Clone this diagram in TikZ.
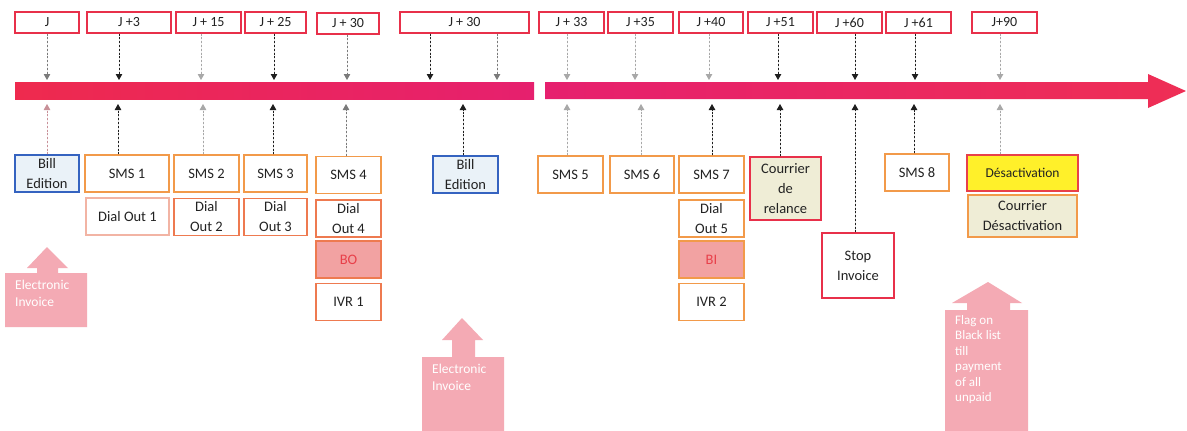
\documentclass[tikz,border=0pt]{standalone}
\usepackage{fontspec}
\setmainfont{Carlito}
\usetikzlibrary{arrows.meta}

\definecolor{frame}{HTML}{E8304A}
\definecolor{barA}{HTML}{EE2A4E}
\definecolor{barB}{HTML}{E6206E}
\definecolor{barC}{HTML}{EE2E55}
\definecolor{orng}{HTML}{F29A4A}
\definecolor{orngred}{HTML}{EE7A50}
\definecolor{paleor}{HTML}{F2B4A4}
\definecolor{billblue}{HTML}{3563C0}
\definecolor{billfill}{HTML}{EAF2F8}
\definecolor{beige}{HTML}{EFEDD6}
\definecolor{yel}{HTML}{FFF02A}
\definecolor{salmon}{HTML}{F2A2A2}
\definecolor{bored}{HTML}{E8404A}
\definecolor{bigpink}{HTML}{F4AAB4}
\definecolor{txt}{HTML}{222222}
\definecolor{arrdark}{HTML}{1E1E1E}
\definecolor{arrgrey}{HTML}{7A7A7A}
\definecolor{arrlight}{HTML}{A8A8A8}
\definecolor{arrpink}{HTML}{C89098}

\tikzset{
  daybox/.style={draw=frame, line width=1.1pt, fill=white, rectangle, inner sep=0pt,
    minimum height=21pt, text=txt, font=\fontsize{14}{16}\selectfont},
  actbox/.style={draw=orng, line width=1.1pt, fill=white, rectangle, inner sep=0pt,
    minimum height=37pt, align=center, text=txt, font=\fontsize{14.5}{20}\selectfont},
  billbox/.style={actbox, draw=billblue, fill=billfill},
  tick/.style={dash pattern=on 2pt off 1.8pt, line width=1pt,
    -{Triangle[width=6.5pt,length=6pt]}},
  tickdark/.style={tick, draw=arrdark, fill=arrdark},
  tickgrey/.style={tick, draw=arrgrey, fill=arrgrey},
  ticklight/.style={tick, draw=arrlight, fill=arrlight},
  tickpink/.style={tick, draw=arrpink, fill=arrpink},
  bigarrow/.style={fill=bigpink},
  bigtext/.style={text=white, align=left, inner sep=0pt, anchor=north west,
    font=\fontsize{13.5}{16.5}\selectfont}
}

\begin{document}
\begin{tikzpicture}[x=1pt,y=-1pt]
\useasboundingbox (0,0) rectangle (1187,431);
\fill[white] (0,0) rectangle (1187,431);

% ---- time line ----
\shade[left color=barA, right color=barB] (15,82) rectangle (534,99);
\shade[left color=barB, right color=barC]
  (545,82) -- (1148,82) -- (1148,74) -- (1186,91) -- (1148,108) -- (1148,99) -- (545,99) -- cycle;

% ---- day markers ----
\node[daybox, minimum width=64pt]  (tJ)  at (47,22.5)    {J};
\node[daybox, minimum width=84pt]  (t3)  at (129,22.5)   {J +3};
\node[daybox, minimum width=65pt]  (t15) at (208.5,22.5) {J + 15};
\node[daybox, minimum width=61pt]  (t25) at (275.5,22.5) {J + 25};
\node[daybox, minimum width=62pt]  (t30) at (348,23.5)   {J + 30};
\node[daybox, minimum width=129pt] (t30b) at (464.5,22.5) {J + 30};
\node[daybox, minimum width=65pt]  (t33) at (571.5,22.5) {J + 33};
\node[daybox, minimum width=65pt]  (t35) at (640.5,22.5) {J +35};
\node[daybox, minimum width=64pt]  (t40) at (711,22.5)   {J +40};
\node[daybox, minimum width=65pt]  (t51) at (780.5,22.5) {J +51};
\node[daybox, minimum width=65pt]  (t60) at (849.5,22.5) {J +60};
\node[daybox, minimum width=65pt]  (t61) at (918.5,22.5) {J +61};
\node[daybox, minimum width=65pt]  (t90) at (1004.5,22.5) {J+90};

% ---- tips on the upper edge of the time line ----
\foreach \n/\x in {a1/47,a2/119,a3/201,a4/274,a5/347,a6/430,a7/497,a8/567,
                   a9/635,a10/709,a11/778,a12/855,a13/915,a14/1000}
  \coordinate (\n) at (\x,80);
% ---- tips under the lower edge of the time line ----
\foreach \n/\x in {u1/47,u2/118,u3/203,u4/273,u5/346,u6/463,u7/567,u8/641,
                   u9/712,u10/780,u11/855,u12/914,u13/1000}
  \coordinate (\n) at (\x,104);

\draw[tickgrey]  (tJ.south -| a1) -- (a1);
\draw[tickdark]  (t3.south -| a2) -- (a2);
\draw[ticklight] (t15.south -| a3) -- (a3);
\draw[tickdark]  (t25.south -| a4) -- (a4);
\draw[tickgrey]  (t30.south -| a5) -- (a5);
\draw[tickdark]  (t30b.south -| a6) -- (a6);
\draw[tickgrey]  (t30b.south -| a7) -- (a7);
\draw[ticklight] (t33.south -| a8) -- (a8);
\draw[ticklight] (t35.south -| a9) -- (a9);
\draw[ticklight] (t40.south -| a10) -- (a10);
\draw[tickdark]  (t51.south -| a11) -- (a11);
\draw[tickdark]  (t60.south -| a12) -- (a12);
\draw[tickdark]  (t61.south -| a13) -- (a13);
\draw[ticklight] (t90.south -| a14) -- (a14);

% ---- actions ----
\node[billbox, minimum width=64pt] (bill1) at (47,173.5) {Bill\\Edition};
\node[actbox, minimum width=84pt] (sms1) at (127,173.5) {SMS 1};
\node[actbox, minimum width=83pt, draw=paleor] (do1) at (127.5,216.5) {Dial Out 1};
\node[actbox, minimum width=65pt] (sms2) at (206.5,173.5) {SMS 2};
\node[actbox, minimum width=65pt, draw=orngred] (do2) at (206.5,217) {Dial\\Out 2};
\node[actbox, minimum width=63pt] (sms3) at (275.5,173.5) {SMS 3};
\node[actbox, minimum width=63pt, draw=orngred] (do3) at (275.5,217) {Dial\\Out 3};
\node[actbox, minimum width=65pt] (sms4) at (348.5,175) {SMS 4};
\node[actbox, minimum width=65pt, draw=orngred] (do4) at (348.5,218.5) {Dial\\Out 4};
\node[actbox, minimum width=65pt, draw=orngred, fill=salmon, text=bored] (bo) at (348.5,259.5) {BO};
\node[actbox, minimum width=65pt, draw=orngred] (ivr1) at (348.5,302) {IVR 1};

\node[billbox, minimum width=65pt] (bill2) at (465.5,174.5) {Bill\\Edition};
\node[actbox, minimum width=65pt] (sms5) at (570.5,174.5) {SMS 5};
\node[actbox, minimum width=64pt] (sms6) at (642,174.5) {SMS 6};
\node[actbox, minimum width=65pt] (sms7) at (711.5,174.5) {SMS 7};
\node[actbox, minimum width=65pt] (do5) at (711.5,218.5) {Dial\\Out 5};
\node[actbox, minimum width=65pt, fill=salmon, text=bored] (bi) at (711.5,259.5) {BI};
\node[actbox, minimum width=65pt] (ivr2) at (711.5,302) {IVR 2};

\node[actbox, minimum width=71pt, minimum height=63pt, draw=frame, fill=beige] (relance) at (785.5,188.5) {Courrier\\de\\relance};
\node[actbox, minimum width=72pt, minimum height=65pt, draw=frame] (stop) at (858,265.5) {Stop\\Invoice};
\node[actbox, minimum width=64pt] (sms8) at (917,172.5) {SMS 8};
\node[actbox, minimum width=111pt, minimum height=36pt, draw=bored, fill=yel,
      font=\fontsize{13.5}{18}\selectfont] (desact) at (1022.5,173) {Désactivation};
\node[actbox, minimum width=109pt, minimum height=42pt, fill=beige] (cdesact) at (1022.5,216) {Courrier\\Désactivation};

% ---- links from actions up to the time line ----
\draw[tickpink]  (bill1.north -| u1) -- (u1);
\draw[tickdark]  (sms1.north -| u2) -- (u2);
\draw[ticklight] (sms2.north -| u3) -- (u3);
\draw[tickdark]  (sms3.north -| u4) -- (u4);
\draw[tickgrey]  (sms4.north -| u5) -- (u5);
\draw[tickdark]  (bill2.north -| u6) -- (u6);
\draw[ticklight] (sms5.north -| u7) -- (u7);
\draw[ticklight] (sms6.north -| u8) -- (u8);
\draw[tickdark]  (sms7.north -| u9) -- (u9);
\draw[tickdark]  (relance.north -| u10) -- (u10);
\draw[tickdark]  (stop.north -| u11) -- (u11);
\draw[tickdark]  (sms8.north -| u12) -- (u12);
\draw[ticklight] (desact.north -| u13) -- (u13);

% ---- block arrows ----
\fill[bigarrow] (5,273) -- (37,273) -- (37,268) -- (27,268) -- (47,247) -- (68,268)
  -- (58,268) -- (58,273) -- (87,273) -- (87,327) -- (5,327) -- cycle;
\node[bigtext] (ei1) at (15,280) {Electronic\\Invoice};

\fill[bigarrow] (422,357) -- (452,357) -- (452,340) -- (442,340) -- (462,318) -- (483,340)
  -- (475,340) -- (475,357) -- (504,357) -- (504,431) -- (422,431) -- cycle;
\node[bigtext] (ei2) at (432,364) {Electronic\\Invoice};

\fill[bigarrow] (945,310) -- (967,310) -- (967,303) -- (952,303) -- (988,282) -- (1022,303)
  -- (1010,303) -- (1010,310) -- (1028,310) -- (1028,431) -- (945,431) -- cycle;
\node[bigtext, font=\fontsize{13}{15.5}\selectfont] (flag) at (955,315)
  {Flag on\\Black list\\till\\payment\\of all\\unpaid};
\end{tikzpicture}
\end{document}
